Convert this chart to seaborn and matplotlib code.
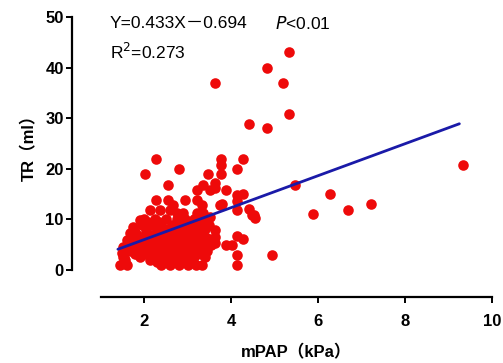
import numpy as np
import pandas as pd
import matplotlib
matplotlib.use("Agg")
import matplotlib.pyplot as plt
import seaborn as sns

sns.set_style("white")
plt.rcParams['font.family'] = ['Liberation Sans', 'Noto Sans CJK SC', 'DejaVu Sans']

# mPAP (kPa) and TR (ml)
mpap = [
    3.63, 5.33, 4.83, 5.20, 5.33, 4.41, 4.83,
    2.28, 2.80, 2.02, 3.47, 3.77, 3.77, 3.77, 4.28, 4.14,
    9.33, 6.27, 5.89, 6.69, 7.22, 4.94, 5.47,
    3.89, 4.14, 4.28, 4.14, 3.79, 4.14, 4.41, 4.53, 4.14, 4.28, 3.89, 4.03, 4.14, 4.14,
    2.55, 3.22, 3.36, 3.52, 3.64, 3.64,
    2.28, 2.55, 2.67, 2.94, 3.22, 3.33, 3.75,
    2.14, 2.37, 2.60, 2.76, 2.90, 3.22, 3.36, 3.52, 4.48, 4.55,
    1.91, 1.75, 1.68, 1.61, 1.52, 1.50, 1.57, 1.45, 1.61, 1.52,
    3.64, 3.64, 3.64, 3.33, 2.14,
    2.30, 2.50, 2.70, 2.90, 3.10,
    1.55, 1.90, 2.15, 2.35, 2.55, 2.75, 2.95, 3.15, 3.40,
    1.70, 1.95, 2.20, 2.40, 2.60, 2.80, 3.00, 3.20, 3.45,
    1.65, 1.85, 2.05, 2.30, 2.50, 2.70, 2.90, 3.30, 3.55,
    1.75, 2.00, 2.20, 2.40, 2.60, 2.80, 3.00, 3.20, 3.45,
    1.80, 2.05, 2.30, 2.50, 2.70, 2.90, 3.10, 3.35,
    1.95, 2.15, 2.40, 2.65, 2.85, 3.05, 3.25, 3.50,
    2.00, 2.25, 2.50, 2.75, 2.95, 3.15, 3.40,
    2.65, 2.85, 3.05, 2.75, 3.10, 2.95, 3.25, 2.60, 2.45, 2.20, 2.00, 1.85,
    2.40, 2.60, 2.80, 3.00, 3.20,
    1.80, 2.05, 2.25, 2.45, 2.65, 2.85, 3.05, 3.30,
    1.60, 1.85, 2.10, 2.30, 2.50, 2.90, 3.10, 3.35,
    1.70, 1.95, 2.15, 2.35, 2.55, 2.75, 2.95, 3.15, 3.35,
    1.85, 2.10, 2.35, 2.55, 2.80, 3.00, 3.25,
    2.05, 2.30, 2.55, 2.75, 2.95, 3.15, 3.40,
    2.10, 2.35, 2.85, 3.05, 3.30,
]
tr = [
    37.0, 43.1, 39.9, 37.0, 30.8, 28.8, 28.0,
    21.9, 19.9, 19.0, 19.0, 21.9, 20.8, 19.0, 21.9, 19.9,
    20.8, 15.0, 11.1, 11.9, 13.0, 3.0, 16.8,
    15.8, 14.8, 15.0, 13.6, 13.0, 11.9, 12.1, 10.9, 6.7, 6.1, 4.9, 4.9, 3.0, 1.0,
    16.8, 15.8, 16.8, 15.8, 17.2, 16.2,
    13.8, 13.8, 12.8, 13.8, 13.8, 12.8, 12.8,
    11.9, 11.9, 11.9, 11.3, 11.3, 11.3, 11.3, 10.5, 10.9, 10.3,
    9.9, 8.5, 7.3, 5.9, 4.5, 3.4, 2.0, 1.0, 1.0, 2.5,
    7.9, 6.5, 5.3, 1.0, 2.0,
    1.5, 1.5, 1.5, 1.5, 1.5,
    2.5, 2.5, 2.5, 2.5, 2.5, 2.5, 2.5, 2.5, 2.5,
    3.8, 3.8, 3.8, 3.8, 3.8, 3.8, 3.8, 3.8, 3.8,
    5.0, 5.0, 5.0, 5.0, 5.0, 5.0, 5.0, 5.0, 5.0,
    6.3, 6.3, 6.3, 6.3, 6.3, 6.3, 6.3, 6.3, 6.3,
    7.5, 7.5, 7.5, 7.5, 7.5, 7.5, 7.5, 7.5,
    8.8, 8.8, 8.8, 8.8, 8.8, 8.8, 8.8, 8.8,
    10.0, 10.0, 10.0, 10.0, 10.0, 10.0, 10.0,
    3.2, 4.4, 5.7, 7.0, 2.0, 6.8, 4.3, 5.7, 4.4, 7.0, 5.6, 3.2,
    1.0, 1.0, 1.0, 1.0, 1.0,
    3.1, 3.1, 3.1, 3.1, 3.1, 3.1, 3.1, 3.1,
    4.4, 4.4, 4.4, 4.4, 4.4, 4.4, 4.4, 4.4,
    5.6, 5.6, 5.6, 5.6, 5.6, 5.6, 5.6, 5.6, 5.6,
    6.9, 6.9, 6.9, 6.9, 6.9, 6.9, 6.9,
    8.2, 8.2, 8.2, 8.2, 8.2, 8.2, 8.2,
    9.4, 9.4, 9.4, 9.4, 9.4,
]

# regression line ends as drawn
line_x = [1.40, 9.25]
line_y = [4.1, 28.9]

df = pd.DataFrame({'mPAP': mpap, 'TR': tr})

fig = plt.figure(figsize=(5.03, 3.63), dpi=100)
ax = fig.add_axes([100.5 / 503, 93 / 363, 391.5 / 503, 253 / 363])

sns.scatterplot(data=df, x='mPAP', y='TR', ax=ax, color='#ee0a0a', s=58,
                linewidth=0, clip_on=False, zorder=2)
sns.lineplot(x=line_x, y=line_y, ax=ax, color='#1a1aa8', linewidth=2, zorder=3)

ax.set_xlim(1, 10)
ax.set_ylim(0, 50)
ax.set_xticks([2, 4, 6, 8, 10])
ax.set_yticks([0, 10, 20, 30, 40, 50])

sns.despine(ax=ax)
ax.spines['left'].set_position(('outward', 20.5))
ax.spines['bottom'].set_position(('outward', 19.5))
for side in ['left', 'bottom']:
    ax.spines[side].set_linewidth(1.6)
    ax.spines[side].set_color('black')
ax.tick_params(axis='both', direction='out', length=4, width=1.4, colors='black',
               labelsize=12, bottom=True, left=True)
ax.tick_params(axis='y', pad=2)
ax.tick_params(axis='x', pad=8)
for lab in ax.get_xticklabels() + ax.get_yticklabels():
    lab.set_fontweight('bold')

ax.set_xlabel('mPAP（kPa）', fontsize=12, fontweight='bold', labelpad=11,
              color='black')
ax.set_ylabel('TR（ml）', fontsize=12, fontweight='bold', labelpad=6,
              color='black')

ax.text(0.024, 0.975, 'Y=0.433X－0.694', transform=ax.transAxes, fontsize=12.5,
        va='center', ha='left', color='black')
ax.text(0.445, 0.975, '$\\it{P}$<0.01', transform=ax.transAxes, fontsize=12.5,
        va='center', ha='left', color='black')
ax.text(0.024, 0.862, 'R$^2$=0.273', transform=ax.transAxes, fontsize=12.5,
        va='center', ha='left', color='black')

fig.savefig('out.png', dpi=100)
